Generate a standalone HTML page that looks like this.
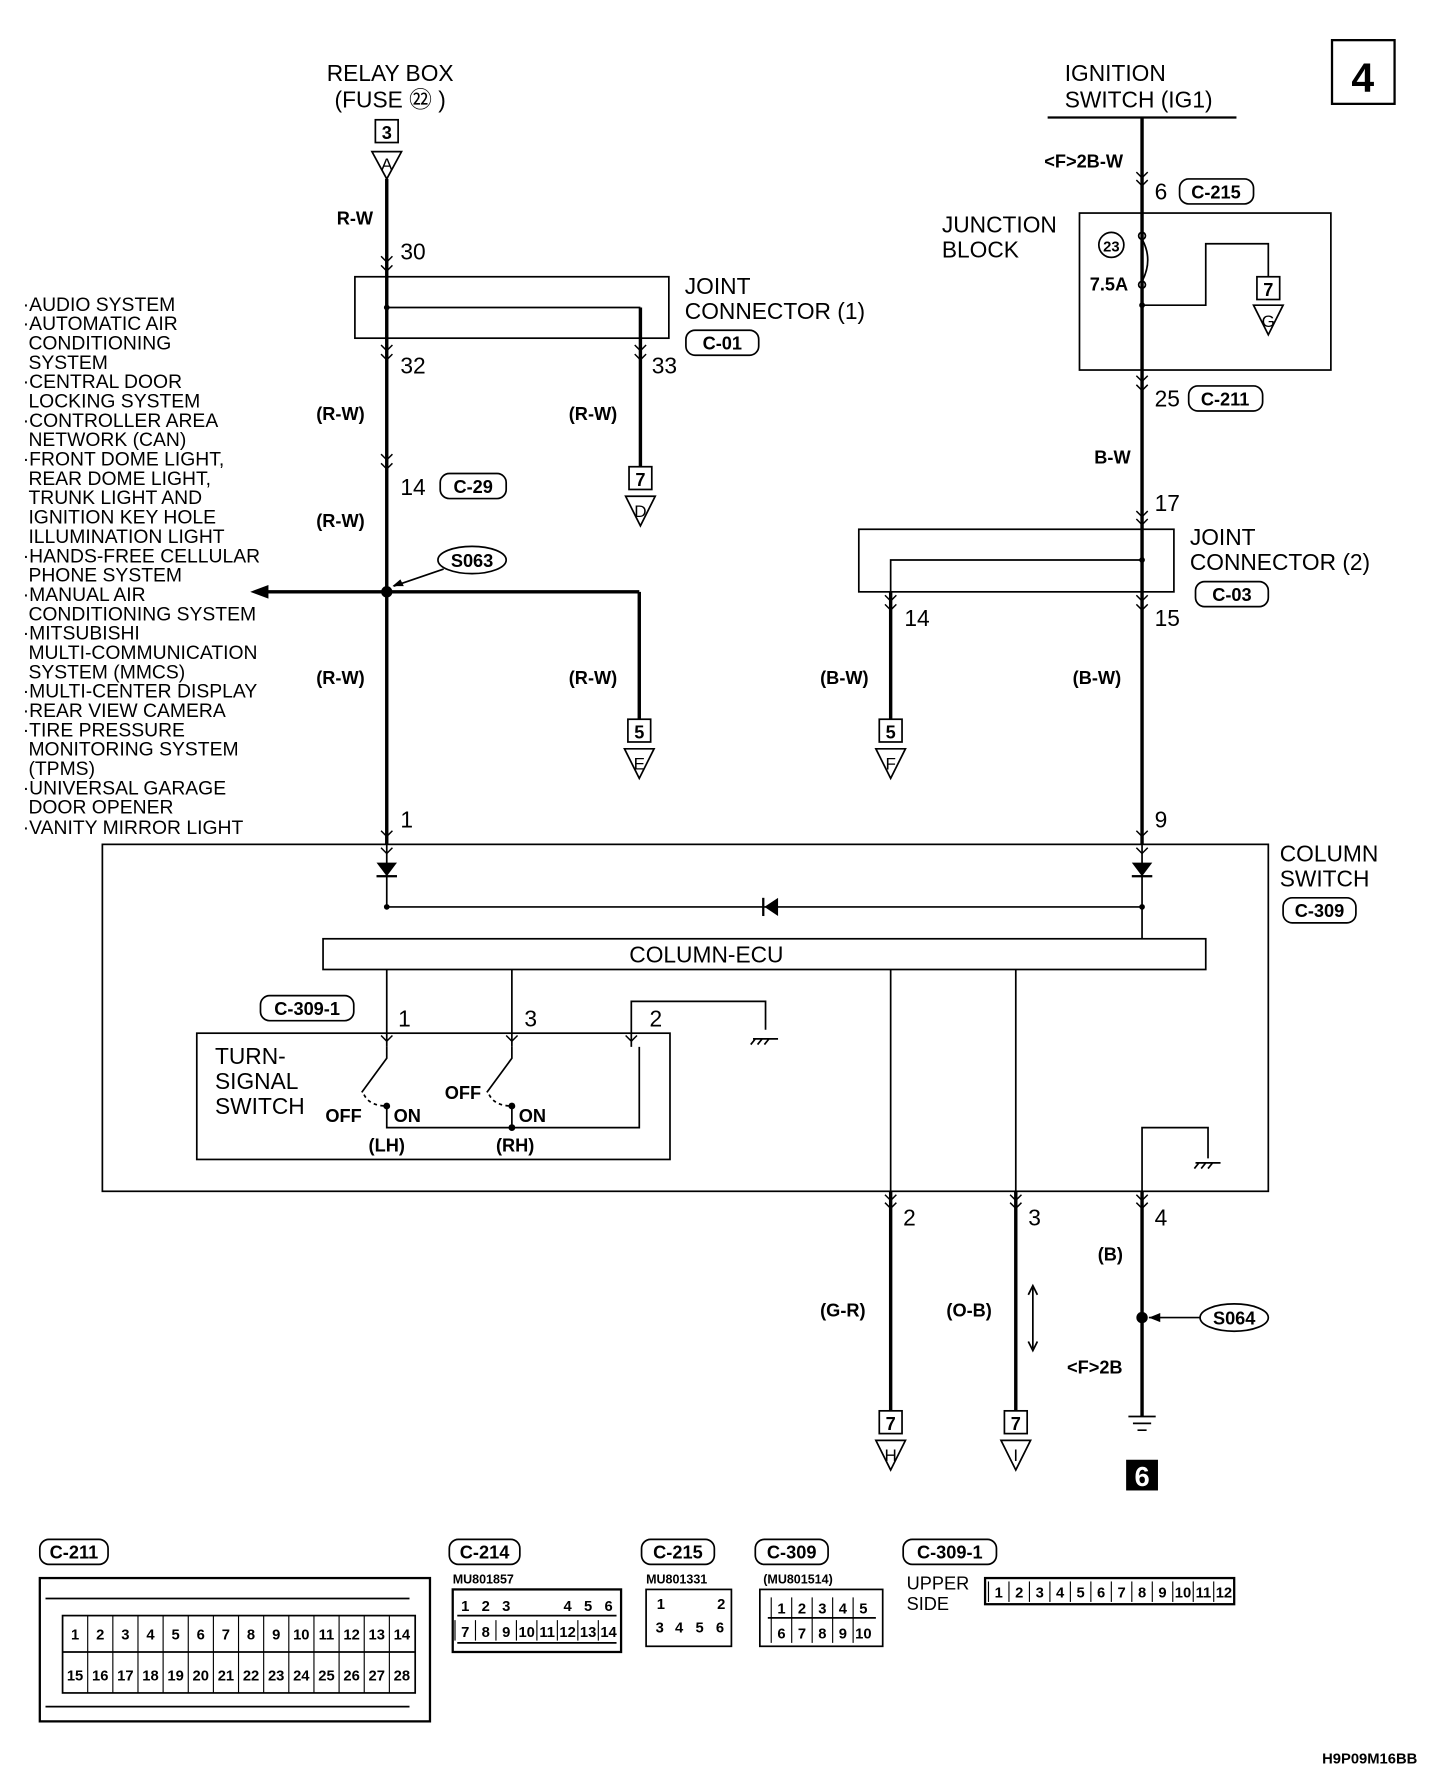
<!DOCTYPE html>
<html><head><meta charset="utf-8"><style>
html,body{margin:0;padding:0;background:#fff}
svg{display:block}
text{font-family:"Liberation Sans",sans-serif;fill:#000}
.t{font-size:20px}
.b{font-size:16px;font-weight:bold}
.s{font-size:15px}
</style></head><body>
<svg id="g" width="1456" height="1782" viewBox="0 0 1280 1566" xmlns="http://www.w3.org/2000/svg">
<rect width="1280" height="1566" fill="#fff"/>
<g fill="none" stroke="#000" stroke-width="1.5">
<rect x="1171" y="35" width="55" height="56" stroke-width="2"/>
</g>
<text x="1198" y="80" font-size="36" text-anchor="middle" font-weight="bold">4</text>
<text class="t" x="343" y="71" text-anchor="middle">RELAY BOX</text>
<text class="t" x="343" y="94" text-anchor="middle">(FUSE ㉒ )</text>
<text class="t" x="936" y="71">IGNITION</text>
<text class="t" x="936" y="94">SWITCH (IG1)</text>
<g fill="none" stroke="#000" stroke-width="1.5">
<line x1="921" y1="103" x2="1087" y2="103" stroke-width="2"/>
<rect x="330" y="105" width="20" height="20"/>
<path d="M327 133 L353 133 L340 157 Z"/>
<line x1="340" y1="157" x2="340" y2="742" stroke-width="3"/>
<rect x="312" y="243" width="276" height="54"/>
<line x1="340" y1="270" x2="563" y2="270"/>
<line x1="563" y1="270" x2="563" y2="410" stroke-width="3"/>
<rect x="553" y="410" width="20" height="20"/>
<path d="M550 436 L576 436 L563 462 Z"/>
<rect x="603" y="290" width="64" height="22" rx="8"/>
<rect x="387" y="416" width="58" height="22" rx="8"/>
<ellipse cx="415" cy="492" rx="30" ry="12"/>
<line x1="390" y1="500" x2="346" y2="515"/>
<line x1="232" y1="520" x2="562" y2="520" stroke-width="3"/>
<line x1="562" y1="520" x2="562" y2="632" stroke-width="3"/>
<rect x="552" y="632" width="20" height="20"/>
<path d="M549 658 L575 658 L562 684 Z"/>
<line x1="1004" y1="103" x2="1004" y2="742" stroke-width="3"/>
<rect x="1037" y="157" width="65" height="22" rx="8"/>
<rect x="949" y="187" width="221" height="138"/>
<rect x="1045" y="339" width="65" height="22" rx="8"/>
<path d="M1004 268 L1060 268 L1060 214 L1115 214 L1115 243"/>
<rect x="1105" y="243" width="20" height="20"/>
<path d="M1102 268 L1128 268 L1115 294 Z"/>
<rect x="755" y="465" width="277" height="55"/>
<path d="M1004 492 L783 492 L783 632" />
<line x1="783" y1="520" x2="783" y2="632" stroke-width="3"/>
<rect x="1051" y="511" width="64" height="22" rx="8"/>
<rect x="773" y="632" width="20" height="20"/>
<path d="M770 658 L796 658 L783 684 Z"/>
<rect x="90" y="742" width="1025" height="305"/>
<rect x="1128" y="789" width="64" height="22" rx="8"/>
<line x1="340" y1="742" x2="340" y2="797"/>
<line x1="1004" y1="742" x2="1004" y2="825"/>
<line x1="340" y1="797" x2="1004" y2="797"/>
<rect x="284" y="825" width="776" height="27"/>
<line x1="340" y1="852" x2="340" y2="920"/>
<line x1="450" y1="852" x2="450" y2="920"/>
<path d="M555 920 L555 880 L673 880 L673 905"/>
<line x1="783" y1="852" x2="783" y2="1047"/>
<line x1="893" y1="852" x2="893" y2="1047"/>
<rect x="229" y="875" width="82" height="22" rx="8"/>
<rect x="173" y="908" width="416" height="111"/>
<path d="M340 920 L340 930 L318 960"/>
<path d="M450 920 L450 930 L428 960"/>
<path d="M562 920 L562 991 L340 991 L340 972"/>
<line x1="450" y1="972" x2="450" y2="991"/>
<path d="M320 962 Q325 972 340 972" stroke-dasharray="3,3"/>
<path d="M430 962 Q435 972 450 972" stroke-dasharray="3,3"/>
<path d="M1004 1047 L1004 991 L1062 991 L1062 1018"/>
<line x1="783" y1="1047" x2="783" y2="1240" stroke-width="3"/>
<line x1="893" y1="1047" x2="893" y2="1240" stroke-width="3"/>
<line x1="1004" y1="1047" x2="1004" y2="1245" stroke-width="3"/>
<rect x="773" y="1240" width="20" height="20"/>
<path d="M770 1266 L796 1266 L783 1292 Z"/>
<rect x="883" y="1240" width="20" height="20"/>
<path d="M880 1266 L906 1266 L893 1292 Z"/>
<line x1="908" y1="1132" x2="908" y2="1185"/>
<path d="M904 1138 L908 1130 L912 1138 M904 1179 L908 1187 L912 1179"/>
<ellipse cx="1085" cy="1158" rx="30" ry="12"/>
<line x1="1055" y1="1158" x2="1010" y2="1158"/>
<path d="M992 1245 L1016 1245 M996 1251 L1012 1251 M1000 1257 L1008 1257"/>
<path d="M662 913 L684 913 M664 913 L660 918 M670 913 L666 918 M676 913 L672 918"/>
<path d="M1051 1022 L1073 1022 M1054 1022 L1050 1027 M1060 1022 L1056 1027 M1066 1022 L1062 1027"/>
</g>
<path d="M220 520 L236 514 L236 526 Z"/>
<circle cx="340" cy="520" r="5"/>
<circle cx="340" cy="270" r="2.5"/>
<circle cx="1004" cy="492" r="2.5"/>
<circle cx="1004" cy="268" r="2.5"/>
<circle cx="1004" cy="1158" r="5"/>
<circle cx="340" cy="797" r="2.5"/><circle cx="1004" cy="797" r="2.5"/>
<path d="M1010 1158 L1020 1154 L1020 1162 Z"/>
<path d="M345 515 L352 509 L355 515 Z"/>
<path d="M331 758 L349 758 L340 770 Z"/><rect x="331" y="769" width="18" height="2"/>
<path d="M995 758 L1013 758 L1004 770 Z"/><rect x="995" y="769" width="18" height="2"/>
<path d="M672 797 L684 789 L684 805 Z"/><rect x="670" y="789" width="2" height="16"/>
<circle cx="340" cy="972" r="3"/><circle cx="450" cy="972" r="3"/><circle cx="450" cy="991" r="3"/>
<rect x="990" y="1283" width="28" height="27"/>
<text x="1004" y="1306" font-size="24" font-weight="bold" text-anchor="middle" style="fill:#fff">6</text>
<g fill="none" stroke="#000" stroke-width="1.5">
<circle cx="1004" cy="207" r="3"/><circle cx="1004" cy="250" r="3"/>
<path d="M1004 210 Q1014 228 1004 247"/>
<circle cx="977" cy="215" r="11"/>
</g>
<text x="977" y="221" font-size="13" font-weight="bold" text-anchor="middle">23</text>
<g fill="none" stroke="#000" stroke-width="1.3" id="chev"></g>
<text class="b" x="296" y="197">R-W</text>
<text class="t" x="352" y="228">30</text>
<text class="t" x="602" y="258">JOINT</text>
<text class="t" x="602" y="280">CONNECTOR (1)</text>
<text class="b" x="635" y="307" text-anchor="middle">C-01</text>
<text class="t" x="352" y="328">32</text>
<text class="t" x="573" y="328">33</text>
<text class="b" x="278" y="369">(R-W)</text>
<text class="b" x="500" y="369">(R-W)</text>
<text class="b" x="563" y="427" text-anchor="middle">7</text>
<text class="s" x="563" y="454" text-anchor="middle">D</text>
<text class="t" x="352" y="435">14</text>
<text class="b" x="416" y="433" text-anchor="middle">C-29</text>
<text class="b" x="278" y="463">(R-W)</text>
<text class="b" x="415" y="498" text-anchor="middle">S063</text>
<text class="b" x="278" y="601">(R-W)</text>
<text class="b" x="500" y="601">(R-W)</text>
<text class="b" x="562" y="649" text-anchor="middle">5</text>
<text class="s" x="562" y="676" text-anchor="middle">E</text>
<text class="t" x="352" y="727">1</text>
<g font-size="17">
<text x="20" y="273">·AUDIO SYSTEM</text>
<text x="20" y="290">·AUTOMATIC AIR</text>
<text x="25" y="307">CONDITIONING</text>
<text x="25" y="324">SYSTEM</text>
<text x="20" y="341">·CENTRAL DOOR</text>
<text x="25" y="358">LOCKING SYSTEM</text>
<text x="20" y="375">·CONTROLLER AREA</text>
<text x="25" y="392">NETWORK (CAN)</text>
<text x="20" y="409">·FRONT DOME LIGHT,</text>
<text x="25" y="426">REAR DOME LIGHT,</text>
<text x="25" y="443">TRUNK LIGHT AND</text>
<text x="25" y="460">IGNITION KEY HOLE</text>
<text x="25" y="477">ILLUMINATION LIGHT</text>
<text x="20" y="494">·HANDS-FREE CELLULAR</text>
<text x="25" y="511">PHONE SYSTEM</text>
<text x="20" y="528">·MANUAL AIR</text>
<text x="25" y="545">CONDITIONING SYSTEM</text>
<text x="20" y="562">·MITSUBISHI</text>
<text x="25" y="579">MULTI-COMMUNICATION</text>
<text x="25" y="596">SYSTEM (MMCS)</text>
<text x="20" y="613">·MULTI-CENTER DISPLAY</text>
<text x="20" y="630">·REAR VIEW CAMERA</text>
<text x="20" y="647">·TIRE PRESSURE</text>
<text x="25" y="664">MONITORING SYSTEM</text>
<text x="25" y="681">(TPMS)</text>
<text x="20" y="698">·UNIVERSAL GARAGE</text>
<text x="25" y="715">DOOR OPENER</text>
<text x="20" y="733">·VANITY MIRROR LIGHT</text>
</g>
<text class="b" x="918" y="147">&lt;F&gt;2B-W</text>
<text class="t" x="1015" y="175">6</text>
<text class="b" x="1069" y="174" text-anchor="middle">C-215</text>
<text class="t" x="828" y="204">JUNCTION</text>
<text class="t" x="828" y="226">BLOCK</text>
<text class="b" x="958" y="255">7.5A</text>
<text class="b" x="1115" y="260" text-anchor="middle">7</text>
<text class="s" x="1115" y="287" text-anchor="middle">G</text>
<text class="t" x="1015" y="357">25</text>
<text class="b" x="1077" y="356" text-anchor="middle">C-211</text>
<text class="b" x="962" y="407">B-W</text>
<text class="t" x="1015" y="449">17</text>
<text class="t" x="1046" y="479">JOINT</text>
<text class="t" x="1046" y="501">CONNECTOR (2)</text>
<text class="b" x="1083" y="528" text-anchor="middle">C-03</text>
<text class="t" x="795" y="550">14</text>
<text class="t" x="1015" y="550">15</text>
<text class="b" x="721" y="601">(B-W)</text>
<text class="b" x="943" y="601">(B-W)</text>
<text class="b" x="783" y="649" text-anchor="middle">5</text>
<text class="s" x="783" y="676" text-anchor="middle">F</text>
<text class="t" x="1015" y="727">9</text>
<text class="t" x="1125" y="757">COLUMN</text>
<text class="t" x="1125" y="779">SWITCH</text>
<text class="b" x="1160" y="806" text-anchor="middle">C-309</text>
<text class="t" x="621" y="846" text-anchor="middle">COLUMN-ECU</text>
<text class="b" x="270" y="892" text-anchor="middle">C-309-1</text>
<text class="t" x="350" y="902">1</text>
<text class="t" x="461" y="902">3</text>
<text class="t" x="571" y="902">2</text>
<text class="t" x="189" y="935">TURN-</text>
<text class="t" x="189" y="957">SIGNAL</text>
<text class="t" x="189" y="979">SWITCH</text>
<text class="b" x="286" y="986">OFF</text>
<text class="b" x="346" y="986">ON</text>
<text class="b" x="391" y="966">OFF</text>
<text class="b" x="456" y="986">ON</text>
<text class="b" x="324" y="1012">(LH)</text>
<text class="b" x="436" y="1012">(RH)</text>
<text class="t" x="794" y="1077">2</text>
<text class="t" x="904" y="1077">3</text>
<text class="t" x="1015" y="1077">4</text>
<text class="b" x="965" y="1108">(B)</text>
<text class="b" x="721" y="1157">(G-R)</text>
<text class="b" x="832" y="1157">(O-B)</text>
<text class="b" x="1085" y="1164" text-anchor="middle">S064</text>
<text class="b" x="938" y="1207">&lt;F&gt;2B</text>
<text class="b" x="783" y="1257" text-anchor="middle">7</text>
<text class="s" x="783" y="1284" text-anchor="middle">H</text>
<text class="b" x="893" y="1257" text-anchor="middle">7</text>
<text class="s" x="893" y="1284" text-anchor="middle">I</text>
<text class="b" x="340" y="122" text-anchor="middle">3</text>
<text class="s" x="340" y="149" text-anchor="middle">A</text>
<g fill="none" stroke="#000" stroke-width="1.5">
<rect x="35" y="1353" width="60" height="22" rx="8"/>
<rect x="395" y="1353" width="62" height="22" rx="8"/>
<rect x="564" y="1353" width="64" height="22" rx="8"/>
<rect x="664" y="1353" width="64" height="22" rx="8"/>
<rect x="794" y="1353" width="82" height="22" rx="8"/>
<rect x="35" y="1387" width="343" height="126" stroke-width="2"/>
<rect x="55" y="1420" width="310" height="68"/>
<line x1="55" y1="1452" x2="365" y2="1452"/>
<line x1="40" y1="1405" x2="360" y2="1405"/>
<line x1="40" y1="1500" x2="360" y2="1500"/>
<rect x="398" y="1397" width="148" height="55" stroke-width="2"/>
<line x1="402" y1="1420" x2="542" y2="1420"/>
<line x1="402" y1="1444" x2="542" y2="1444"/>
<rect x="568" y="1397" width="75" height="50"/>
<rect x="668" y="1397" width="108" height="50"/>
<line x1="675" y1="1422" x2="770" y2="1422"/>
<rect x="866" y="1387" width="219" height="23" stroke-width="2"/>
</g>
<g class="b" font-size="15" text-anchor="middle">
<text x="65" y="1370">C-211</text>
<text x="426" y="1370">C-214</text>
<text x="596" y="1370">C-215</text>
<text x="696" y="1370">C-309</text>
<text x="835" y="1370">C-309-1</text>
</g>
<text x="398" y="1392" font-size="11" font-weight="bold">MU801857</text>
<text x="568" y="1392" font-size="11" font-weight="bold">MU801331</text>
<text x="671" y="1392" font-size="11" font-weight="bold">(MU801514)</text>
<text x="797" y="1397" font-size="16">UPPER</text>
<text x="797" y="1415" font-size="16">SIDE</text>
<g id="cells" font-size="13" font-weight="bold" text-anchor="middle"></g>
<text x="1246" y="1550" font-size="13" font-weight="bold" text-anchor="end">H9P09M16BB</text>
</svg>
<script>
var NS="http://www.w3.org/2000/svg",c=document.getElementById("cells"),ch=document.getElementById("chev");
function T(x,y,s){var t=document.createElementNS(NS,"text");t.setAttribute("x",x);t.setAttribute("y",y);t.textContent=s;c.appendChild(t);}
function L(x1,y1,x2,y2){var l=document.createElementNS(NS,"line");l.setAttribute("x1",x1);l.setAttribute("y1",y1);l.setAttribute("x2",x2);l.setAttribute("y2",y2);l.setAttribute("stroke","#000");l.setAttribute("stroke-width","1");c.appendChild(l);}
for(var i=0;i<14;i++){var x=55+i*22.1;L(x,1420,x,1488);T(x+11,1441,i+1);T(x+11,1477,i+15);}
var a=[1,2,3,"","",4,5,6];for(i=0;i<8;i++){var x=400+i*18;if(a[i]!=="")T(x+9,1416,a[i]);}
for(i=0;i<8;i++){var x=400+i*18;L(x,1424,x,1442);T(x+9,1439,i+7);}
T(581,1414,1);T(634,1414,2);T(580,1435,3);T(597,1435,4);T(615,1435,5);T(633,1435,6);
for(i=0;i<5;i++){var x=678+i*18;T(x+9,1418,i+1);T(x+9,1440,i+6);L(x,1404,x,1444);}
for(i=0;i<12;i++){var x=869+i*18;L(x,1390,x,1408);T(x+9,1404,i+1);}
function V(x,y){var p=document.createElementNS(NS,"path");p.setAttribute("d","M"+(x-5)+" "+(y-5)+" L"+x+" "+y+" L"+(x+5)+" "+(y-5));ch.appendChild(p);}
[[340,230],[340,238],[340,308],[340,316],[563,308],[563,316],[340,404],[340,412],[1004,163],[1004,156],[1004,335],[1004,343],[1004,454],[1004,461],[1004,528],[1004,536],[783,528],[783,536],[340,735],[340,750],[1004,735],[1004,750],[340,915],[450,915],[555,915],[783,1055],[783,1062],[893,1055],[893,1062],[1004,1055],[1004,1062]].forEach(function(v){V(v[0],v[1]);});
</script>
</body></html>
